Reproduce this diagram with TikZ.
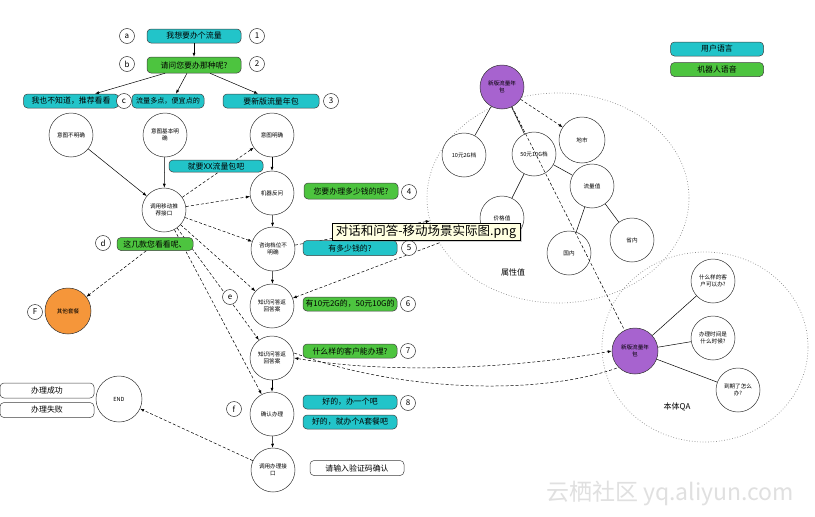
\documentclass[tikz,border=0pt]{standalone}
\usepackage{fontspec}
\setmainfont{Noto Sans CJK SC}
\usetikzlibrary{arrows.meta,shadows,shapes.geometric}
\definecolor{ucyan}{HTML}{22C4C9}
\definecolor{ugreen}{HTML}{4DC43F}
\definecolor{uorange}{HTML}{F5963A}
\definecolor{upurple}{HTML}{A763CF}
\definecolor{tipyellow}{HTML}{FFFFE1}
\tikzset{
  boxbase/.style={draw=black!75, line width=0.5pt, rounded corners=4pt, minimum width=94pt, minimum height=14pt, inner sep=0pt, font=\fontsize{7.9}{8}\selectfont},
  ubox/.style={boxbase, fill=ucyan},
  mbox/.style={boxbase, fill=ugreen},
  wbox/.style={boxbase, fill=white},
  circ/.style={circle, draw=black!80, fill=white, line width=0.5pt, minimum size=44pt, inner sep=0pt, align=center, font=\fontsize{5.6}{7}\selectfont},
  lab/.style={circle, draw=black!80, fill=white, line width=0.5pt, minimum size=15pt, inner sep=0pt, font=\fontsize{8}{9}\selectfont},
  arr/.style={-{Latex[length=4pt,width=3pt]}, line width=0.5pt},
  darr/.style={arr, densely dashed},
  dline/.style={densely dashed, line width=0.5pt},
  sline/.style={line width=0.5pt},
  region/.style={ellipse, draw=black!45, dotted, line width=0.7pt, inner sep=0pt}
}
\begin{document}
\begin{tikzpicture}[x=1pt,y=-1pt]
\useasboundingbox (0,0) rectangle (815,517);
\fill[white] (0,0) rectangle (815,517);

% regions
\node[region, minimum width=262pt, minimum height=210pt] (attr) at (558,198) {};
\node[region, minimum width=206pt, minimum height=190pt] (qae) at (705,347) {};
\node[font=\fontsize{8}{9}\selectfont] (attrlab) at (513,272) {属性值};
\node[font=\fontsize{8}{9}\selectfont] (qalab) at (677,407) {本体QA};

% top boxes
\node[ubox] (box1) at (194,36) {我想要办个流量};
\node[mbox, minimum height=16pt] (box2) at (194,65) {请问您要办那种呢?};
\node[ubox, minimum width=95pt] (box3a) at (71,101) {我也不知道，推荐看看};
\node[ubox, minimum width=72pt, font=\fontsize{7.1}{8}\selectfont] (box3b) at (168,101) {流量多点，便宜点的};
\node[ubox, minimum width=96pt] (box3c) at (271,101) {要新版流量年包};
\node[lab] (la) at (127,36) {a};
\node[lab] (l1) at (257,36) {1};
\node[lab] (lb) at (127,64) {b};
\node[lab] (l2) at (257,64) {2};
\node[lab] (lc) at (124,101) {c};
\node[lab] (l3) at (331,101) {3};

% main circles
\node[circ] (c1) at (71,135) {意图不明确};
\node[circ] (c2) at (165,135) {意图基本明\\确};
\node[circ] (c3) at (272,135) {意图明确};
\node[circ] (rec) at (164,210) {调用移动推\\荐接口};
\node[circ] (ask) at (272,193) {机器反问};
\node[circ] (unc) at (273,249) {咨询档位不\\明确};
\node[circ, fill=uorange, minimum size=46pt] (other) at (68,311) {其他套餐};
\node[circ] (qa1) at (272,306) {知识问答返\\回答案};
\node[circ] (qa2) at (272,358) {知识问答返\\回答案};
\node[circ] (conf) at (272,414) {确认办理};
\node[circ] (call) at (273,470) {调用办理接\\口};
\node[circ, minimum size=46pt] (endn) at (119,399) {END};

% right side circles
\node[circ, fill=upurple] (tp) at (502,87) {新版流量年\\包};
\node[circ] (p1) at (464,155) {10元2G档};
\node[circ] (p2) at (534,154) {50元10G档};
\node[circ, minimum size=46pt] (city) at (582,140) {地市};
\node[circ] (flow) at (592,186) {流量值};
\node[circ] (price) at (502,218) {价格值};
\node[circ] (dom) at (569,253) {国内};
\node[circ] (prov) at (632,240) {省内};
\node[circ, fill=upurple, minimum size=46pt] (qp) at (635,351) {新版流量年\\包};
\node[circ] (q1) at (713,281) {什么样的客\\户可以办?};
\node[circ] (q2) at (713,338) {办理时间是\\什么时候?};
\node[circ] (q3) at (738,390) {到期了怎么\\办?};

% solid arrows
\draw[arr] (box1) -- (box2);
\draw[arr] ([xshift=-29pt]box2.south) -- ([xshift=24pt]box3a.north);
\draw[arr] ([xshift=-7pt]box2.south) -- ([xshift=8pt]box3b.north);
\draw[arr] ([xshift=16pt]box2.south) -- ([xshift=-13pt]box3c.north);
\draw[arr] (c1) -- (rec);
\draw[arr] (c2) -- (rec);
\draw[arr] (c3) -- (ask);
\draw[arr] (ask) -- (unc);
\draw[arr] (unc) -- (qa1);
\draw[arr] (qa2) -- (conf);
\draw[arr] (conf) -- (call);

% dashed arrows
\draw[darr] (rec) -- (c3);
\draw[darr] (rec) -- (ask);
\draw[darr] (rec) -- (unc);
\draw[darr] (rec) -- (qa1);
\draw[darr] (rec) -- (qa2);
\draw[darr] (rec) -- (conf);
\draw[darr] (call) -- (endn);
\draw[darr] (unc) -- (attr);
\draw[darr] (attr) -- (qa1);
\draw[densely dashed, line width=0.5pt, {Latex[length=4pt,width=3pt]}-{Latex[length=4pt,width=3pt]}] (qa2.east) .. controls (400,376) and (530,366) .. (qp.west);
\draw[dline] ([yshift=5pt]qa2.east) .. controls (400,392) and (540,396) .. (qp.south west);

% right side edges
\draw[sline] (tp) -- (p1);
\draw[sline] (tp) -- (p2);
\draw[sline] (p2) -- (flow);
\draw[sline] (p2) -- (price);
\draw[sline] (flow) -- (dom);
\draw[sline] (flow) -- (prov);
\draw[darr] (tp) -- (city);
\draw[sline] (qp) -- (q1);
\draw[sline] (qp) -- (q2);
\draw[sline] (qp) -- (q3);
\draw[dline] (tp) -- (qp);

% boxes beside circles (drawn over connectors)
\node[ubox, minimum height=12pt] (xxbox) at (216,166) {就要XX流量包吧};
\node[mbox, minimum height=16pt] (box4) at (351,191) {您要办理多少钱的呢?};
\node[lab] (l4) at (409,192) {4};
\node[ubox, minimum height=15pt] (box5) at (350,248) {有多少钱的?};
\node[lab] (l5) at (409,248) {5};
\node[mbox, minimum width=76pt, minimum height=13pt] (dbox) at (155,244) {这几款您看看呢、};
\node[lab] (ld) at (103,243) {d};
\node[lab] (lF) at (35,312) {F};
\node[mbox] (box6) at (350,304) {有10元2G的，50元10G的};
\node[lab] (l6) at (408,304) {6};
\node[lab] (le) at (230,297) {e};
\node[mbox] (box7) at (350,351) {什么样的客户能办理?};
\node[lab] (l7) at (408,351) {7};
\node[ubox] (box8a) at (350,402) {好的，办一个吧};
\node[lab] (l8) at (408,403) {8};
\node[ubox] (box8b) at (350,422) {好的，就办个A套餐吧};
\node[lab] (lf) at (234,409) {f};
\node[wbox, minimum height=15pt] (vbox) at (357,468) {请输入验证码确认};
\node[wbox, minimum height=15pt] (s1) at (47,390.5) {办理成功};
\node[wbox, minimum height=15pt] (s2) at (47,410) {办理失败};
\draw[darr] (dbox) -- (other);

% legend
\node[ubox, minimum width=93pt] (leg1) at (717,49) {用户语言};
\node[mbox, minimum width=93pt] (leg2) at (717,69.5) {机器人语音};

% tooltip overlay
\node[draw=black, fill=tipyellow, line width=0.5pt, drop shadow={opacity=0.35, shadow xshift=2pt, shadow yshift=-2pt}, minimum width=188pt, minimum height=17pt, inner sep=1pt, font=\fontsize{12.5}{13}\selectfont] (tip) at (426,231.5) {对话和问答-移动场景实际图.png};

% watermark
\node[text=black!12, font=\fontsize{23}{24}\selectfont] (wm) at (670,493) {云栖社区 yq.aliyun.com};
\end{tikzpicture}
\end{document}
